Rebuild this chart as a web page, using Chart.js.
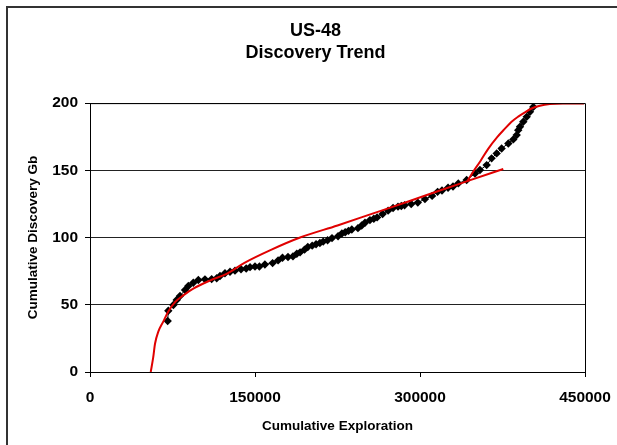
<!DOCTYPE html>
<html lang="en">
<head>
    <meta charset="UTF-8">
    <title>US-48 Discovery Trend</title>
    <script src="https://cdn.jsdelivr.net/npm/chart.js@4.4.0/dist/chart.umd.min.js"></script>
    <style>
        html, body { margin: 0; padding: 0; background: #fff; }
        #wrap { position: relative; width: 617px; height: 445px; }
    </style>
</head>
<body>
<div id="wrap">
    <canvas id="myChart" width="617" height="445"></canvas>
</div>
<script>
    // cumulative exploration vs cumulative discovery (Gb)
    var dataX = [70600, 71200, 75800, 78800, 81800, 86400, 89400, 93900, 98500, 104500,
        110600, 115200, 118200, 122700, 127300, 131800, 137300, 142000, 145500, 150000,
        154000, 159000, 166000, 171000, 175000, 180000, 184500, 188000, 191000, 195000,
        198000, 202000, 205500, 209000, 212000, 216000, 220000, 225500, 229000, 232000,
        235000, 238000, 243600, 247000, 250000, 254500, 258000, 261000, 266000, 271000,
        275500, 280000, 283000, 286000, 292000, 298000, 304500, 311000, 316000, 320000,
        325500, 330000, 334800, 342400, 350000, 354500, 360600, 365100, 369700, 374200,
        380300, 384800, 387900, 389300, 390900, 393900, 397000, 400000, 403000];
    var dataY = [37.9, 45.6, 49.8, 53.5, 56.5, 61, 64, 66.4, 68.4, 68.9,
        69.1, 69.7, 71.4, 73.4, 74.6, 75.4, 76.4, 77, 78, 78.5,
        78.5, 80, 81, 83, 85, 85.5, 86, 88, 89, 91,
        93, 94, 95, 96, 97, 98, 99.6, 101, 103, 104,
        105, 106, 107, 109, 111, 113, 114, 115, 117.5, 120,
        122, 123, 123.5, 124, 125, 126, 128.6, 131, 134, 135,
        137, 138, 140.3, 142.8, 147.7, 150.2, 153.9, 158.9, 162.6, 166.3,
        170, 173, 176.2, 179.9, 182.4, 186.1, 189.8, 193.5, 197.2];

    // first fitted trend
    var fit1X = [55200, 57500, 59100, 62100, 66600, 71200, 77300, 84800, 93900, 109000,
        124200, 140000, 165000, 191000, 225000, 257500, 290000, 318000, 345000, 375700];
    var fit1Y = [0, 11, 21, 30, 37.5, 45, 52, 57, 62, 68,
        73, 81, 91, 100, 109, 118, 127, 135, 142.5, 151];

    // second fitted trend
    var fit2X = [343000, 348400, 355000, 362000, 370000, 377200, 383000, 389300, 395000,
        401500, 409000, 418000, 430000, 449000];
    var fit2Y = [142, 149, 157, 166, 174.5, 181, 186, 190, 193, 196, 198, 199.3, 199.8, 199.8];

    var xTicks = [0, 150000, 300000, 450000];
    var yTicks = [0, 50, 100, 150, 200];

    function pts(xs, ys) {
        var out = [];
        for (var i = 0; i < xs.length; i++) {
            out.push({ x: xs[i], y: ys[i] });
        }
        return out;
    }

    var font = 'Liberation Sans, Arial, sans-serif';

    // frame round the whole picture and box round the plot
    var frames = {
        id: 'frames',
        afterDraw: function (chart) {
            var ctx = chart.ctx;
            var a = chart.chartArea;
            ctx.save();
            ctx.strokeStyle = '#333';
            ctx.lineWidth = 2;
            ctx.beginPath();
            ctx.moveTo(7, 445);
            ctx.lineTo(7, 7);
            ctx.lineTo(617, 7);
            ctx.stroke();
            ctx.strokeStyle = '#000';
            ctx.lineWidth = 1;
            ctx.beginPath();
            ctx.moveTo(a.left, a.top + 0.5);
            ctx.lineTo(a.right + 0.5, a.top + 0.5);
            ctx.lineTo(a.right + 0.5, a.bottom);
            ctx.stroke();
            ctx.restore();
        }
    };

    var myChart = new Chart(document.getElementById('myChart'), {
        type: 'scatter',
        data: {
            datasets: [
                {
                    label: 'Fit 1',
                    data: pts(fit1X, fit1Y),
                    showLine: true,
                    borderColor: '#e00000',
                    borderWidth: 2,
                    pointRadius: 0,
                    cubicInterpolationMode: 'monotone'
                },
                {
                    label: 'Fit 2',
                    data: pts(fit2X, fit2Y),
                    showLine: true,
                    borderColor: '#e00000',
                    borderWidth: 2,
                    pointRadius: 0,
                    cubicInterpolationMode: 'monotone'
                },
                {
                    label: 'US-48',
                    data: pts(dataX, dataY),
                    showLine: true,
                    borderColor: '#000',
                    borderWidth: 1,
                    backgroundColor: '#000',
                    pointStyle: 'rectRot',
                    pointRadius: 4.2,
                    pointBorderWidth: 0
                }
            ]
        },
        options: {
            responsive: false,
            animation: false,
            layout: { padding: { left: 14, right: 0, top: 0, bottom: 0 } },
            plugins: {
                legend: { display: false },
                tooltip: { enabled: false },
                title: {
                    display: true,
                    text: ['US-48', 'Discovery Trend'],
                    color: '#000',
                    font: { family: font, size: 18, weight: 'bold', lineHeight: 1.17 },
                    padding: { top: 21, bottom: 40 }
                }
            },
            scales: {
                x: {
                    type: 'linear',
                    min: 0,
                    max: 450000,
                    afterBuildTicks: function (scale) {
                        scale.ticks = xTicks.map(function (v) { return { value: v }; });
                    },
                    afterFit: function (scale) {
                        scale.height = 73;
                        scale.paddingRight = 32;
                    },
                    grid: { drawOnChartArea: false, color: '#000', tickLength: 5, tickColor: '#000' },
                    border: { color: '#000', width: 1 },
                    ticks: {
                        color: '#000',
                        padding: 11,
                        maxRotation: 0,
                        font: { family: font, size: 15.5, weight: 'bold' },
                        callback: function (v) { return String(v); }
                    },
                    title: {
                        display: true,
                        text: 'Cumulative Exploration',
                        color: '#000',
                        font: { family: font, size: 13.5, weight: 'bold' },
                        padding: { top: 4, bottom: 11 }
                    }
                },
                y: {
                    min: 0,
                    max: 200,
                    afterBuildTicks: function (scale) {
                        scale.ticks = yTicks.map(function (v) { return { value: v }; });
                    },
                    afterFit: function (scale) { scale.width = 76; },
                    grid: { color: '#222', lineWidth: 1, tickLength: 5, tickColor: '#000' },
                    border: { color: '#000', width: 1 },
                    ticks: {
                        color: '#000',
                        padding: 7,
                        font: { family: font, size: 15.5, weight: 'bold' }
                    },
                    title: {
                        display: true,
                        text: 'Cumulative Discovery Gb',
                        color: '#000',
                        font: { family: font, size: 13.5, weight: 'bold' },
                        padding: { top: 11, bottom: 0 }
                    }
                }
            }
        },
        plugins: [frames]
    });
</script>
</body>
</html>
